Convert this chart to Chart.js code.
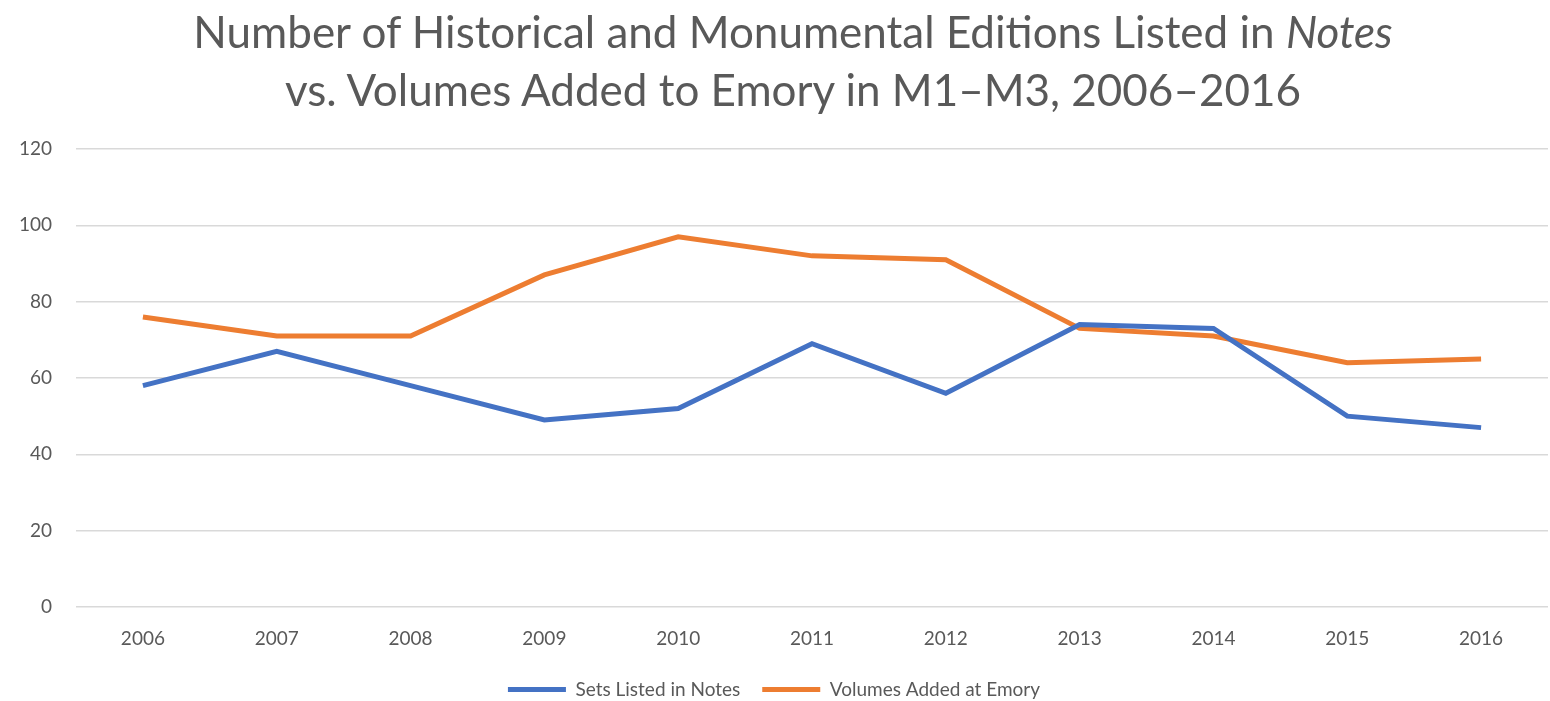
<!DOCTYPE html>
<html>
<head>
<meta charset="utf-8">
<script src="https://cdn.jsdelivr.net/npm/chart.js@4"></script>
<style>
  html, body { margin: 0; padding: 0; background: #fff; overflow: hidden; }
  #wrap { position: relative; width: 1550px; height: 701px; overflow: hidden; }
  #title {
    position: absolute; left: 0; top: 2px; width: 1550px; padding-left: 36px; box-sizing: border-box;
    text-align: center; font-family: Lato, "Open Sans", sans-serif;
    font-size: 44px; line-height: 58px; color: #595959;
  }
  canvas { position: absolute; left: 0; top: 0; }
</style>
</head>
<body>
<div id="wrap">
  <canvas id="chart" width="1550" height="709"></canvas>
  <div id="title">Number of Historical and Monumental Editions Listed in <i>Notes</i><br>vs. Volumes Added to Emory in M1–M3, 2006–2016</div>
</div>
<script>
(function () {
  "use strict";

  // --- Data
  var years = ["2006", "2007", "2008", "2009", "2010", "2011", "2012", "2013", "2014", "2015", "2016"];
  var setsListed = [58, 67, 58, 49, 52, 69, 56, 74, 73, 50, 47];
  var volumesAdded = [76, 71, 71, 87, 97, 92, 91, 73, 71, 64, 65];
  var yTicks = [0, 20, 40, 60, 80, 100, 120];

  var colors = {
    blue: "#4472C4",
    orange: "#ED7D31",
    grid: "#D9D9D9",
    text: "#595959"
  };

  Chart.defaults.font.family = "Lato, 'Open Sans', sans-serif";
  Chart.defaults.font.size = 19;
  Chart.defaults.color = colors.text;

  new Chart(document.getElementById("chart"), {
    type: "line",
    data: {
      labels: years,
      datasets: [
        {
          label: "Sets Listed in Notes",
          data: setsListed,
          borderColor: colors.blue,
          backgroundColor: colors.blue,
          borderWidth: 5,
          pointRadius: 0,
          tension: 0
        },
        {
          label: "Volumes Added at Emory",
          data: volumesAdded,
          borderColor: colors.orange,
          backgroundColor: colors.orange,
          borderWidth: 5,
          pointRadius: 0,
          tension: 0
        }
      ]
    },
    options: {
      responsive: false,
      animation: false,
      layout: { padding: { top: 149, right: 2, left: 0, bottom: 0 } },
      plugins: {
        legend: {
          position: "bottom",
          labels: {
            usePointStyle: true,
            pointStyle: "line",
            pointStyleWidth: 58,
            padding: 22,
            font: { size: 19 }
          }
        },
        tooltip: { enabled: false }
      },
      scales: {
        x: {
          offset: true,
          grid: { display: false },
          border: { display: false },
          ticks: { padding: 12 },
          afterFit: function (s) { s.height = 51; }
        },
        y: {
          min: 0,
          max: 120,
          afterBuildTicks: function (s) {
            s.ticks = yTicks.map(function (v) { return { value: v }; });
          },
          grid: { color: colors.grid, lineWidth: 1.5, drawTicks: false },
          border: { display: false },
          ticks: { padding: 24 },
          afterFit: function (s) { s.width = 76; }
        }
      }
    }
  });
})();
</script>
</body>
</html>
